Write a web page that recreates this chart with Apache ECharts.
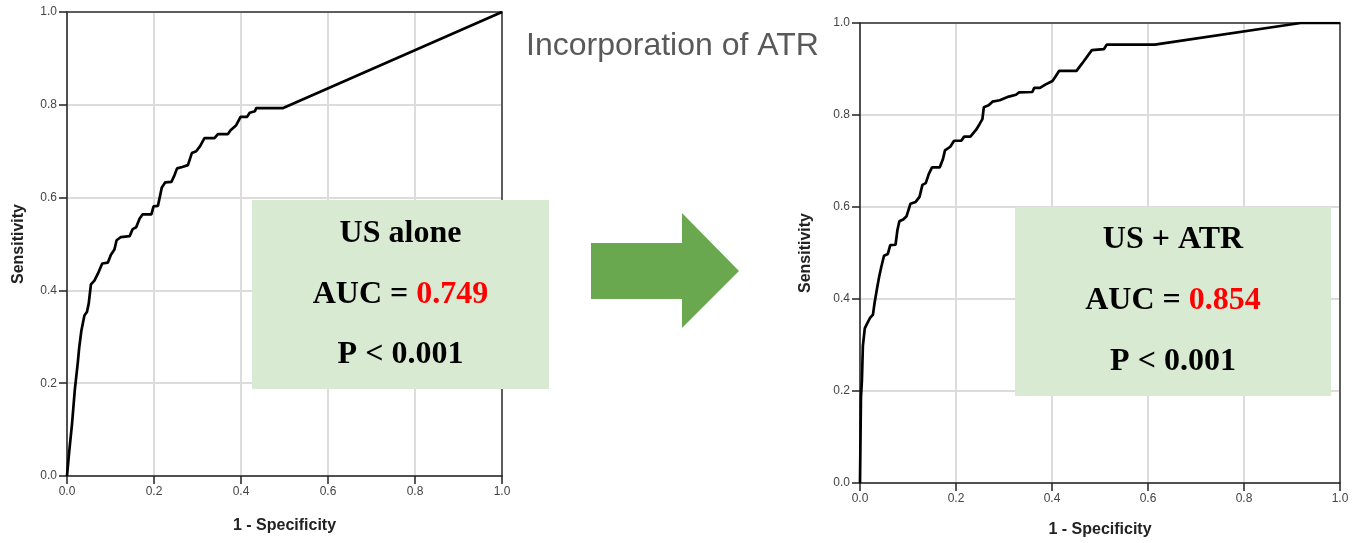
<!DOCTYPE html>
<html>
<head>
<meta charset="utf-8">
<title>ROC - Incorporation of ATR</title>
<script src="https://cdn.jsdelivr.net/npm/echarts@6/dist/echarts.min.js"></script>
<style>
  html, body { margin: 0; padding: 0; background: #fff; }
  #chart { width: 1362px; height: 543px; }
</style>
</head>
<body>
<div id="chart"></div>
<script>
// ROC curve, US alone (1 - specificity / sensitivity)
const fprUS = [0, 0.005, 0.0115, 0.018, 0.025, 0.028, 0.033, 0.040, 0.046, 0.050, 0.055, 0.063, 0.071, 0.081,
  0.094, 0.101, 0.109, 0.114, 0.124, 0.144, 0.151, 0.159, 0.167, 0.174, 0.194, 0.199, 0.209, 0.218, 0.226,
  0.240, 0.247, 0.253, 0.265, 0.278, 0.287, 0.297, 0.306, 0.316, 0.339, 0.347, 0.370, 0.376, 0.389, 0.399,
  0.414, 0.420, 0.432, 0.435, 0.497, 1];
const tprUS = [0, 0.052, 0.112, 0.186, 0.246, 0.276, 0.313, 0.346, 0.354, 0.372, 0.413, 0.421, 0.436, 0.458,
  0.460, 0.477, 0.488, 0.508, 0.515, 0.517, 0.532, 0.536, 0.555, 0.564, 0.564, 0.581, 0.582, 0.622, 0.633,
  0.634, 0.648, 0.663, 0.666, 0.670, 0.696, 0.700, 0.711, 0.728, 0.728, 0.737, 0.737, 0.745, 0.756, 0.774,
  0.774, 0.783, 0.786, 0.793, 0.793, 1];

// ROC curve, US + ATR
const fprATR = [0, 0.002, 0.004, 0.006, 0.010, 0.015, 0.021, 0.027, 0.030, 0.036, 0.040, 0.044, 0.050, 0.058,
  0.063, 0.074, 0.078, 0.082, 0.090, 0.097, 0.105, 0.116, 0.124, 0.130, 0.137, 0.143, 0.150, 0.166, 0.173,
  0.177, 0.188, 0.196, 0.211, 0.217, 0.230, 0.242, 0.249, 0.255, 0.258, 0.268, 0.276, 0.291, 0.310, 0.325,
  0.331, 0.359, 0.363, 0.375, 0.386, 0.401, 0.407, 0.415, 0.451, 0.462, 0.483, 0.508, 0.514, 0.614, 0.918, 1];
const tprATR = [0, 0.186, 0.223, 0.298, 0.336, 0.347, 0.359, 0.366, 0.389, 0.426, 0.449, 0.468, 0.494, 0.498,
  0.517, 0.518, 0.550, 0.569, 0.573, 0.580, 0.607, 0.611, 0.622, 0.648, 0.652, 0.671, 0.686, 0.686, 0.705,
  0.723, 0.731, 0.744, 0.744, 0.753, 0.753, 0.768, 0.780, 0.791, 0.817, 0.821, 0.829, 0.832, 0.840, 0.844,
  0.849, 0.850, 0.859, 0.859, 0.866, 0.874, 0.883, 0.896, 0.896, 0.911, 0.941, 0.943, 0.953, 0.953, 1, 1];

const xName = '1 - Specificity';
const yName = 'Sensitivity';
const panelTitle = 'Incorporation of ATR';
const boxUS = ['US alone', '0.749', 'P < 0.001'];
const boxATR = ['US + ATR', '0.854', 'P < 0.001'];

const zip = (xs, ys) => xs.map((x, i) => [x, ys[i]]);

const chart = echarts.init(document.getElementById('chart'));

const sans = 'Arial, "Liberation Sans", sans-serif';
const serif = '"Times New Roman", "Liberation Serif", serif';

const mainAxis = (gridIndex, nameGap) => ({
  gridIndex,
  type: 'value',
  min: 0,
  max: 1,
  interval: 0.2,
  axisLine: { show: true, onZero: false, lineStyle: { color: '#222', width: 1.5 } },
  axisTick: { show: true, length: 8, lineStyle: { color: '#222', width: 1.5 } },
  axisLabel: { color: '#444', fontSize: 12, fontFamily: sans, margin: 10, formatter: v => v.toFixed(1) },
  splitLine: { show: true, lineStyle: { color: '#dcdcdc', width: 2 } },
  nameLocation: 'middle',
  nameGap,
  nameTextStyle: { fontWeight: 'bold', fontSize: 16, color: '#222', fontFamily: sans }
});

// top / right frame lines
const frameAxis = (gridIndex, position) => ({
  gridIndex,
  type: 'value',
  min: 0,
  max: 1,
  position,
  axisLine: { show: true, onZero: false, lineStyle: { color: '#333', width: 1.5 } },
  axisTick: { show: false },
  axisLabel: { show: false },
  splitLine: { show: false }
});

const boxText = (cx, ys, lines) => [
  {
    type: 'text', x: cx, y: ys[0], z: 20,
    style: { text: lines[0], font: 'bold 32px ' + serif, fill: '#000', align: 'center', verticalAlign: 'middle' }
  },
  {
    type: 'text', x: cx, y: ys[1], z: 20,
    style: {
      text: '{a|AUC = }{b|' + lines[1] + '}',
      align: 'center', verticalAlign: 'middle',
      rich: {
        a: { font: 'bold 32px ' + serif, fill: '#000' },
        b: { font: 'bold 32px ' + serif, fill: '#ff0000' }
      }
    }
  },
  {
    type: 'text', x: cx, y: ys[2], z: 20,
    style: { text: lines[2], font: 'bold 32px ' + serif, fill: '#000', align: 'center', verticalAlign: 'middle' }
  }
];

const option = {
  animation: false,
  backgroundColor: '#fff',
  grid: [
    { left: 67, top: 12, width: 435, height: 464 },
    { left: 860, top: 23, width: 480, height: 460 }
  ],
  xAxis: [
    Object.assign(mainAxis(0, 42), { name: xName }),
    Object.assign(mainAxis(1, 39), { name: xName }),
    frameAxis(0, 'top'),
    frameAxis(1, 'top')
  ],
  yAxis: [
    Object.assign(mainAxis(0, 40), { name: yName }),
    Object.assign(mainAxis(1, 46), { name: yName }),
    frameAxis(0, 'right'),
    frameAxis(1, 'right')
  ],
  series: [
    {
      name: 'US alone',
      type: 'line',
      xAxisIndex: 0,
      yAxisIndex: 0,
      data: zip(fprUS, tprUS),
      showSymbol: false,
      lineStyle: { color: '#000', width: 2.7 },
      z: 5
    },
    {
      name: 'US + ATR',
      type: 'line',
      xAxisIndex: 1,
      yAxisIndex: 1,
      data: zip(fprATR, tprATR),
      showSymbol: false,
      lineStyle: { color: '#000', width: 2.7 },
      z: 5
    }
  ],
  graphic: [
    {
      type: 'text', x: 526, y: 46, z: 20,
      style: { text: panelTitle, font: '32px ' + sans, fill: '#595959', verticalAlign: 'middle' }
    },
    {
      type: 'polygon', z: 20,
      shape: { points: [[591, 243], [682, 243], [682, 213], [739, 271], [682, 328], [682, 299], [591, 299]] },
      style: { fill: '#6aa84f' }
    },
    { type: 'rect', z: 15, shape: { x: 252, y: 200, width: 297, height: 189 }, style: { fill: '#d9ead3' } },
    { type: 'rect', z: 15, shape: { x: 1015, y: 207, width: 316, height: 189 }, style: { fill: '#d9ead3' } },
    ...boxText(400.5, [234, 295, 355], boxUS),
    ...boxText(1173, [240, 301, 362], boxATR)
  ]
};

chart.setOption(option);
</script>
</body>
</html>
